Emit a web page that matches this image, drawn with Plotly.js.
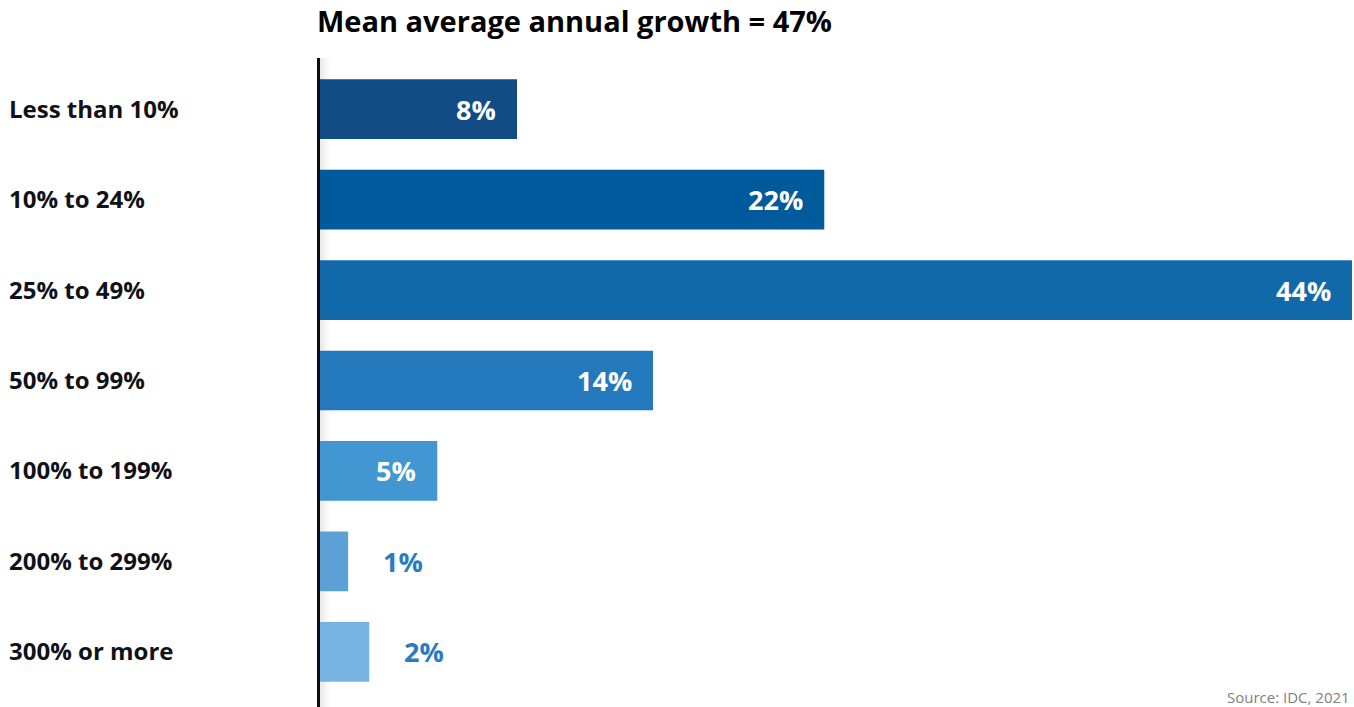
<!DOCTYPE html>
<html>
<head>
<meta charset="utf-8">
<script src="https://cdn.plot.ly/plotly-3.0.1.min.js"></script>
<style>html,body{margin:0;padding:0;background:#fff;}#chart{width:1354px;height:707px;}</style>
</head>
<body>
<div id="chart"></div>
<script>
const categories = ["Less than 10%", "10% to 24%", "25% to 49%", "50% to 99%", "100% to 199%", "200% to 299%", "300% or more"];
const values = [8.4, 21.5, 44, 14.2, 5, 1.2, 2.1];
const valueLabels = ["8%", "22%", "44%", "14%", "5%", "1%", "2%"];
const barColors = ["#114D84", "#005A9C", "#1169AA", "#2479BD", "#4296D2", "#5BA1D6", "#76B3E2"];
const titleText = "Mean average annual growth = 47%";
const sourceText = "Source: IDC, 2021";

const FONT = "'Open Sans', sans-serif";
const W = 1354, H = 707;
const mL = 320, mR = 2, mT = 64, mB = 10;
const plotW = W - mL - mR, plotH = H - mT - mB;

const trace = {
  type: "bar",
  orientation: "h",
  y: categories,
  x: values,
  width: 0.66,
  marker: {color: barColors},
  hoverinfo: "none"
};

const annotations = [];
categories.forEach((c, i) => {
  annotations.push({
    xref: "paper", yref: "y", x: -(mL - 7) / plotW, y: c,
    xanchor: "left", yanchor: "middle", showarrow: false, yshift: 1,
    text: "<b>" + c + "</b>",
    font: {family: FONT, size: 24, color: "#111118"}
  });
  const inside = values[i] >= 4;
  annotations.push({
    xref: "x", yref: "y", x: values[i], y: c,
    xanchor: inside ? "right" : "left", yanchor: "middle",
    xshift: inside ? -19 : 33, showarrow: false,
    text: "<b>" + valueLabels[i] + "</b>",
    font: {family: FONT, size: 27, color: inside ? "#ffffff" : "#2A7BBF"}
  });
});
annotations.push({
  xref: "paper", yref: "paper", x: 1, y: -(697 - (H - mB)) / plotH,
  xanchor: "right", yanchor: "middle", showarrow: false,
  text: sourceText,
  font: {family: FONT, size: 15, color: "#808080"}
});

const shapes = [];
// soft shadow right of the axis line
[[0, 3, 0.08], [3, 6, 0.05], [6, 9, 0.025]].forEach(s => {
  shapes.push({
    type: "rect", xref: "paper", yref: "paper",
    x0: s[0] / plotW, x1: s[1] / plotW, y0: -(mB) / plotH, y1: 1 + 6 / plotH,
    fillcolor: "rgba(0,0,0," + s[2] + ")", line: {width: 0}, layer: "below"
  });
});
shapes.push({
  type: "line", xref: "paper", yref: "paper",
  x0: -1.5 / plotW, x1: -1.5 / plotW, y0: -(mB + 2) / plotH, y1: 1 + 6 / plotH,
  line: {color: "#0d0d14", width: 3}
});

const layout = {
  width: W, height: H,
  margin: {l: mL, r: mR, t: mT, b: mB},
  paper_bgcolor: "#ffffff", plot_bgcolor: "#ffffff",
  showlegend: false,
  title: {
    text: "<b>" + titleText + "</b>",
    xref: "container", yref: "container",
    x: 317 / W, xanchor: "left", y: 1 - 22 / H, yanchor: "middle",
    font: {family: FONT, size: 29, color: "#000000"}
  },
  xaxis: {range: [0, 44], visible: false, fixedrange: true},
  yaxis: {autorange: "reversed", showticklabels: false, showline: false, showgrid: false, zeroline: false, ticks: "", fixedrange: true},
  annotations: annotations,
  shapes: shapes,
  bargap: 0.34
};

Plotly.newPlot("chart", [trace], layout, {displayModeBar: false, staticPlot: true});
</script>
</body>
</html>
